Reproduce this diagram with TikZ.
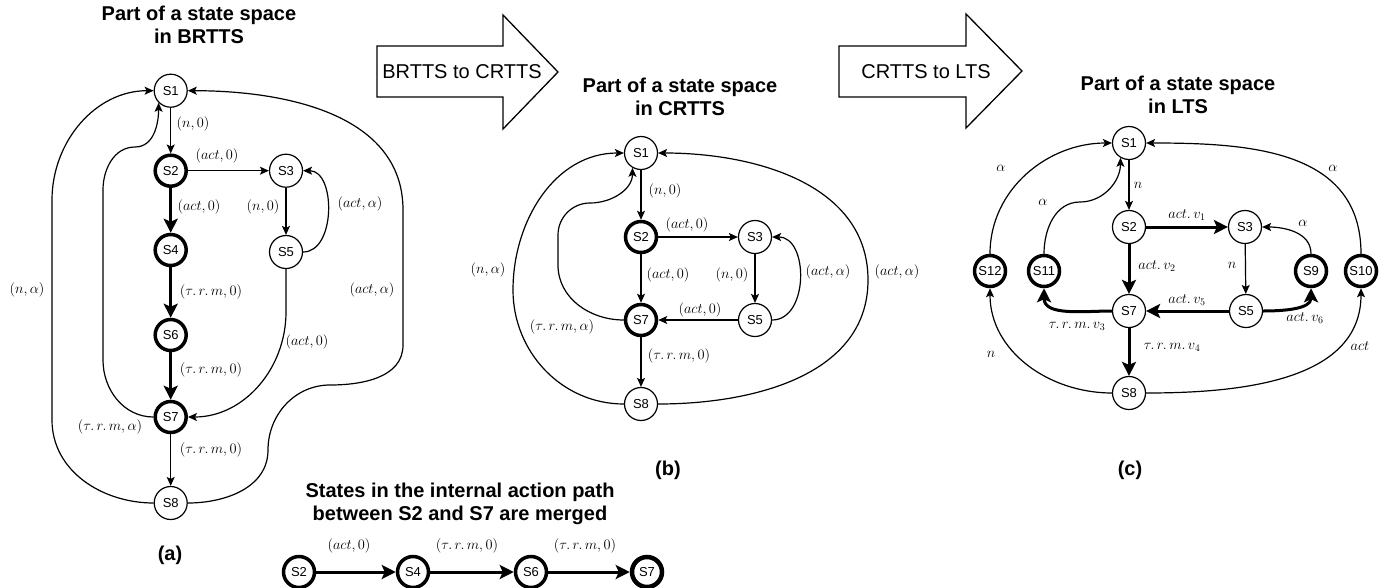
\documentclass[tikz,border=0pt]{standalone}
\usepackage[no-math]{fontspec}
\newfontfamily\arialf{Liberation Sans}
\usetikzlibrary{arrows.meta}
\begin{document}
\begin{tikzpicture}[x=1pt,y=1pt,
  st/.style={circle, draw, line width=1.2pt, minimum size=33pt, inner sep=0pt, font=\arialf\fontsize{13}{13}\selectfont},
  stb/.style={st, line width=3.5pt, minimum size=31pt},
  stc/.style={st, line width=4.5pt, minimum size=30pt},
  lbl/.style={inner sep=0pt, font=\fontsize{14}{16}\selectfont},
  e/.style={line width=1.2pt, -{Stealth[length=9pt,width=8pt,inset=2pt]}},
  et/.style={line width=3pt, -{Stealth[length=14pt,width=14pt,inset=3pt]}},
  ttl/.style={align=center, font=\arialf\bfseries\fontsize{20}{23}\selectfont},
  bigarrow/.style={draw, line width=1.3pt, line join=miter},
  atxt/.style={font=\arialf\fontsize{20}{20}\selectfont}
]
\useasboundingbox (0,0) rectangle (1400,-587);

% titles
\node[ttl] (ta) at (199,-25) {Part of a state space\\in BRTTS};
\node[ttl] (tb) at (680,-97) {Part of a state space\\in CRTTS};
\node[ttl] (tc) at (1178,-95) {Part of a state space\\in LTS};
\node[ttl] (td) at (460,-504) {States in the internal action path\\between S2 and S7 are merged};
\node[ttl] (capa) at (170,-555) {(a)};
\node[ttl] (capb) at (668,-470) {(b)};
\node[ttl] (capc) at (1130,-470) {(c)};

% big arrows
\draw[bigarrow] (377,-46) -- (503,-46) -- (503,-15) -- (558,-72) -- (503,-129) -- (503,-97) -- (377,-97) -- cycle;
\node[atxt] (t1) at (462,-72) {BRTTS to CRTTS};
\draw[bigarrow] (839,-46) -- (966,-46) -- (966,-14) -- (1022,-71) -- (966,-128) -- (966,-97) -- (839,-97) -- cycle;
\node[atxt] (t2) at (926,-72) {CRTTS to LTS};

% ---------- panel (a)
\node[st]  (a1) at (170.7,-90.7) {S1};
\node[stb] (a2) at (170.7,-170.7) {S2};
\node[st]  (a3) at (286,-170.7) {S3};
\node[stb] (a4) at (170.7,-250) {S4};
\node[st]  (a5) at (286,-252) {S5};
\node[stb] (a6) at (170.7,-335) {S6};
\node[stb] (a7) at (170.7,-417) {S7};
\node[st]  (a8) at (170.7,-503) {S8};

\draw[e] (a1) -- (a2);
\draw[e] (a2) -- (a3);
\draw[et] (a2) -- (a4);
\draw[et] (a4) -- (a6);
\draw[et] (a6) -- (a7);
\draw[e] (a7) -- (a8);
\draw[e] (a3) -- (a5);
\draw[e] (a5.east) .. controls (336,-252) and (336,-170.7) .. (a3.east);
\draw[e] (a5.south) -- (286,-312) to[out=-90,in=0] (a7.east);
\draw[e] (a8.west) to[out=180,in=-90] (52,-420) -- (52,-200) to[out=90,in=180] (a1.west);
\draw[e] (a7.west) to[out=180,in=-90] (103,-360) -- (103,-190) to[out=90,in=180] (135,-147) to[out=0,in=-90] (a1.-135);
\draw[e] (a8.east) to[out=0,in=-90] (268,-450) to[out=90,in=180] (330,-385) to[out=0,in=-90] (403,-345) -- (403,-210) to[out=90,in=0] (a1.east);

\node[lbl] (la1) at (193,-124) {$(n,0)$};
\node[lbl] (la2) at (217,-156) {$(act,0)$};
\node[lbl] (la3) at (199,-207) {$(act,0)$};
\node[lbl] (la4) at (263,-207) {$(n,0)$};
\node[lbl] (la5) at (360,-204) {$(act,\alpha)$};
\node[lbl] (la6) at (27,-290) {$(n,\alpha)$};
\node[lbl] (la7) at (211,-292) {$(\tau.\,r.\,m,0)$};
\node[lbl] (la8) at (307,-342) {$(act,0)$};
\node[lbl] (la9) at (372,-290) {$(act,\alpha)$};
\node[lbl] (la10) at (211,-370) {$(\tau.\,r.\,m,0)$};
\node[lbl] (la11) at (110,-427) {$(\tau.\,r.\,m,\alpha)$};
\node[lbl] (la12) at (211,-450) {$(\tau.\,r.\,m,0)$};

% ---------- panel (b)
\node[st]  (b1) at (641,-153) {S1};
\node[stb] (b2) at (641,-237) {S2};
\node[st]  (b3) at (755,-237) {S3};
\node[stb] (b7) at (641,-320) {S7};
\node[st]  (b5) at (755,-320) {S5};
\node[st]  (b8) at (641,-404) {S8};

\draw[e] (b1) -- (b2);
\draw[e] (b2) -- (b3);
\draw[e] (b2) -- (b7);
\draw[e] (b3) -- (b5);
\draw[e] (b5) -- (b7);
\draw[e] (b7) -- (b8);
\draw[e] (b5.east) .. controls (809,-320) and (809,-237) .. (b3.east);
\draw[e] (b8.west) to[out=180,in=-90] (513,-290) to[out=90,in=180] (b1.west);
\draw[e] (b7.west) to[out=180,in=-90] (558,-265) -- (558,-235) to[out=90,in=180] (590,-203) to[out=0,in=-90] (b1.-120);
\draw[e] (b8.east) to[out=0,in=-90] (868,-280) to[out=90,in=0] (b1.east);

\node[lbl] (lb1) at (665,-191) {$(n,0)$};
\node[lbl] (lb2) at (687,-225) {$(act,0)$};
\node[lbl] (lb3) at (668,-275) {$(act,0)$};
\node[lbl] (lb4) at (732,-275) {$(n,0)$};
\node[lbl] (lb5) at (700,-310) {$(act,0)$};
\node[lbl] (lb6) at (679,-356) {$(\tau.\,r.\,m,0)$};
\node[lbl] (lb7) at (828,-272) {$(act,\alpha)$};
\node[lbl] (lb8) at (488,-270) {$(n,\alpha)$};
\node[lbl] (lb9) at (562,-327) {$(\tau.\,r.\,m,\alpha)$};
\node[lbl] (lb10) at (897,-272) {$(act,\alpha)$};

% ---------- panel (c)
\node[st]  (c1) at (1129,-143) {S1};
\node[st]  (c2) at (1129,-227) {S2};
\node[st]  (c3) at (1245,-227) {S3};
\node[stb] (c12) at (990,-271) {S12};
\node[stb] (c11) at (1044,-271) {S11};
\node[stb] (c9) at (1311,-271) {S9};
\node[stb] (c10) at (1361,-271) {S10};
\node[st]  (c7) at (1129,-311) {S7};
\node[st]  (c5) at (1246,-311) {S5};
\node[st]  (c8) at (1129,-393) {S8};

\draw[e] (c1) -- (c2);
\draw[et] (c2) -- (c3);
\draw[et] (c2) -- (c7);
\draw[e] (c3) -- (c5);
\draw[et] (c5) -- (c7);
\draw[et] (c7) -- (c8);
\draw[et] (c5.east) to[out=0,in=-90] (c9.south);
\draw[et] (c7.west) to[out=180,in=-90] (c11.south);
\draw[e] (c9.north) to[out=90,in=0] (c3.east);
\draw[e] (c12.north) to[out=90,in=180] (c1.west);
\draw[e] (c11.north) to[out=90,in=180] (1080,-202) to[out=0,in=-90] (c1.-120);
\draw[e] (c10.north) to[out=90,in=0,looseness=1.1] (c1.east);
\draw[e] (c8.west) to[out=180,in=-90] (c12.south);
\draw[e] (c8.east) to[out=0,in=-90] (c10.south);

\node[lbl] (lc1) at (1138,-185) {$n$};
\node[lbl] (lc2) at (1001,-168) {$\alpha$};
\node[lbl] (lc3) at (1043,-202) {$\alpha$};
\node[lbl] (lc4) at (1333,-168) {$\alpha$};
\node[lbl] (lc5) at (1187,-215) {$act.\,v_1$};
\node[lbl] (lc6) at (1303,-223) {$\alpha$};
\node[lbl] (lc7) at (1157,-266) {$act.\,v_2$};
\node[lbl] (lc8) at (1232,-265) {$n$};
\node[lbl] (lc9) at (1187,-300) {$act.\,v_5$};
\node[lbl] (lc10) at (1305,-318) {$act.\,v_6$};
\node[lbl] (lc11) at (1077,-326) {$\tau.\,r.\,m.\,v_3$};
\node[lbl] (lc12) at (1172,-347) {$\tau.\,r.\,m.\,v_4$};
\node[lbl] (lc13) at (991,-354) {$n$};
\node[lbl] (lc14) at (1360,-346) {$act$};

% ---------- merged path
\node[stb] (d2) at (299,-572) {S2};
\node[stb] (d4) at (413,-572) {S4};
\node[stb] (d6) at (531,-572) {S6};
\node[stc] (d7) at (647,-572) {S7};
\draw[et] (d2) -- (d4);
\draw[et] (d4) -- (d6);
\draw[et] (d6) -- (d7);
\node[lbl] (ld1) at (349,-546) {$(act,0)$};
\node[lbl] (ld2) at (467,-546) {$(\tau.\,r.\,m,0)$};
\node[lbl] (ld3) at (585,-546) {$(\tau.\,r.\,m,0)$};
\end{tikzpicture}
\end{document}
